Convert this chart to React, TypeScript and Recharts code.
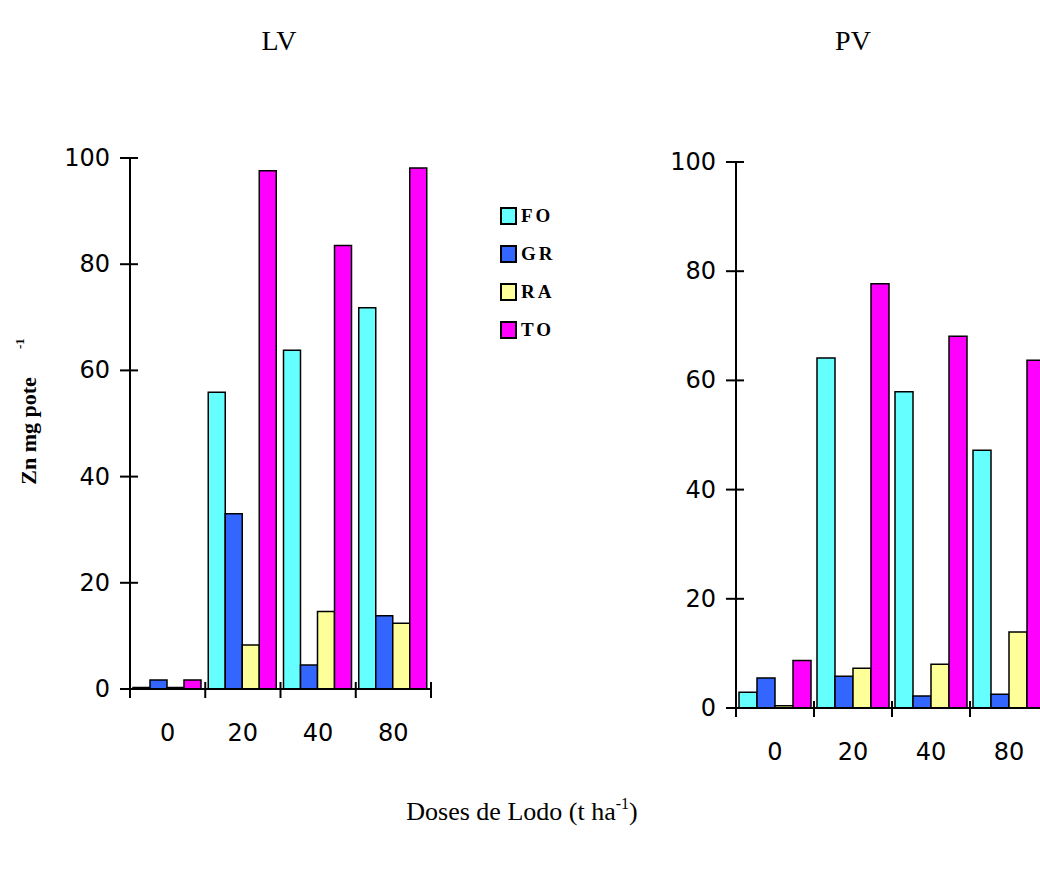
import React from "react";
import { BarChart, Bar, XAxis, YAxis } from "recharts";

const doses = ["0", "20", "40", "80"];
const yTicks = [0, 20, 40, 60, 80, 100];

// LV (left panel)
const lvFO = [0.3, 55.9, 63.8, 71.8];
const lvGR = [1.7, 33.0, 4.5, 13.8];
const lvRA = [0.3, 8.3, 14.6, 12.4];
const lvTO = [1.7, 97.6, 83.5, 98.1];

// PV (right panel)
const pvFO = [2.9, 64.1, 57.9, 47.2];
const pvGR = [5.5, 5.8, 2.2, 2.5];
const pvRA = [0.4, 7.3, 8.0, 13.9];
const pvTO = [8.7, 77.7, 68.1, 63.7];

const SERIES = [
  { key: "FO", color: "#66FFFF" },
  { key: "GR", color: "#3366FF" },
  { key: "RA", color: "#FFFF99" },
  { key: "TO", color: "#FF00FF" },
];

const build = (fo: number[], gr: number[], ra: number[], to: number[]) =>
  doses.map((d, i) => ({ dose: d, FO: fo[i], GR: gr[i], RA: ra[i], TO: to[i] }));

const lvData = build(lvFO, lvGR, lvRA, lvTO);
const pvData = build(pvFO, pvGR, pvRA, pvTO);

const TICK_FONT = "'DejaVu Sans', Verdana, sans-serif";
const SERIF = "'Liberation Serif', 'Times New Roman', serif";

function YTick(props: any) {
  const { x, y, payload } = props;
  return (
    <g>
      <line x1={x + 10} x2={x + 28} y1={y} y2={y} stroke="#000" strokeWidth={2} />
      <text x={x} y={y} textAnchor="end" dominantBaseline="central" fontFamily={TICK_FONT} fontSize={24} fill="#000">
        {payload.value}
      </text>
    </g>
  );
}

function makeXTick(band: number, labelOffset: number) {
  return function XTick(props: any) {
    const { x, y, payload, index } = props;
    const axisY = y - 16;
    const left = x - band / 2;
    const right = x + band / 2;
    return (
      <g>
        <line x1={left} x2={left} y1={axisY - 7} y2={axisY + 9} stroke="#000" strokeWidth={2} />
        {index === doses.length - 1 && (
          <line x1={right} x2={right} y1={axisY - 7} y2={axisY + 9} stroke="#000" strokeWidth={2} />
        )}
        <text x={x} y={axisY + labelOffset} textAnchor="middle" dominantBaseline="central" fontFamily={TICK_FONT} fontSize={24} fill="#000">
          {payload.value}
        </text>
      </g>
    );
  };
}

function Panel({ data, width, margin, band, labelOffset }: any) {
  return (
    <BarChart width={width} height={780} data={data} margin={margin} barCategoryGap={3} barGap={0}>
      <XAxis
        dataKey="dose"
        height={60}
        tickSize={8}
        tickMargin={8}
        tickLine={false}
        axisLine={{ stroke: "#000", strokeWidth: 2 }}
        tick={makeXTick(band, labelOffset)}
        interval={0}
      />
      <YAxis
        width={60}
        domain={[0, 100]}
        ticks={yTicks}
        tickSize={10}
        tickMargin={10}
        tickLine={false}
        axisLine={{ stroke: "#000", strokeWidth: 2 }}
        tick={<YTick />}
        allowDataOverflow
      />
      {SERIES.map((s) => (
        <Bar key={s.key} dataKey={s.key} fill={s.color} stroke="#000" strokeWidth={1.5} isAnimationActive={false} />
      ))}
    </BarChart>
  );
}

export default function App() {
  return (
    <div style={{ position: "absolute", left: 0, top: 0, width: 1040, height: 875, overflow: "hidden", background: "#fff" }}>
      <div style={{ position: "absolute", left: 0, top: 0 }}>
        <Panel data={lvData} width={450} margin={{ top: 158, right: 19, bottom: 31, left: 70 }} band={75.25} labelOffset={44} />
      </div>
      <div style={{ position: "absolute", left: 620, top: 0 }}>
        <Panel data={pvData} width={440} margin={{ top: 162, right: 12, bottom: 12, left: 56 }} band={78} labelOffset={44} />
      </div>

      {/* legend */}
      <div style={{ position: "absolute", left: 500, top: 197 }}>
        {SERIES.map((s) => (
          <div key={s.key} style={{ display: "flex", alignItems: "center", height: 38 }}>
            <span style={{ display: "inline-block", width: 13, height: 14, background: s.color, border: "2px solid #000" }} />
            <span style={{ marginLeft: 4, fontFamily: SERIF, fontWeight: "bold", fontSize: 19, letterSpacing: 3, color: "#000" }}>
              {s.key}
            </span>
          </div>
        ))}
      </div>

      <svg width={1040} height={875} style={{ position: "absolute", left: 0, top: 0, pointerEvents: "none" }}>
        <text x={279} y={50} textAnchor="middle" fontFamily={SERIF} fontSize={28} fill="#000">LV</text>
        <text x={853} y={50} textAnchor="middle" fontFamily={SERIF} fontSize={28} fill="#000">PV</text>
        <g transform="translate(36, 431) rotate(-90)">
          <text x={0} y={0} textAnchor="middle" fontFamily={SERIF} fontWeight="bold" fontSize={22} fill="#000">Zn mg pote</text>
          <text x={82} y={-12} fontFamily={SERIF} fontWeight="bold" fontSize={13} fill="#000">-1</text>
        </g>
        <text x={522} y={820} textAnchor="middle" fontFamily={SERIF} fontSize={26} fill="#000">
          Doses de Lodo (t ha<tspan dy={-11} fontSize={16}>-1</tspan><tspan dy={11}>)</tspan>
        </text>
      </svg>
    </div>
  );
}
